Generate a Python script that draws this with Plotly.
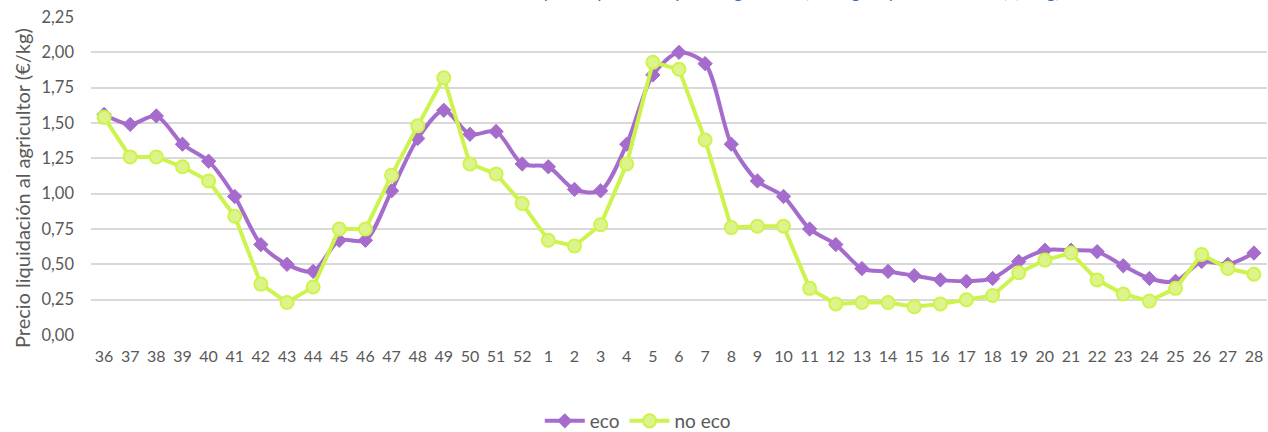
import plotly.graph_objects as go

weeks = ["36", "37", "38", "39", "40", "41", "42", "43", "44", "45", "46", "47", "48", "49",
         "50", "51", "52", "1", "2", "3", "4", "5", "6", "7", "8", "9", "10", "11", "12",
         "13", "14", "15", "16", "17", "18", "19", "20", "21", "22", "23", "24", "25", "26",
         "27", "28"]

eco = [1.56, 1.49, 1.55, 1.35, 1.23, 0.98, 0.64, 0.50, 0.45, 0.67, 0.67, 1.02, 1.39, 1.59,
       1.42, 1.44, 1.21, 1.19, 1.03, 1.02, 1.35, 1.84, 2.00, 1.92, 1.35, 1.09, 0.98, 0.75, 0.64,
       0.47, 0.45, 0.42, 0.39, 0.38, 0.40, 0.52, 0.60, 0.60, 0.59, 0.49, 0.40, 0.38, 0.52,
       0.50, 0.58]

no_eco = [1.54, 1.26, 1.26, 1.19, 1.09, 0.84, 0.36, 0.23, 0.34, 0.75, 0.75, 1.13, 1.48, 1.82,
          1.21, 1.14, 0.93, 0.67, 0.63, 0.78, 1.21, 1.93, 1.88, 1.38, 0.76, 0.77, 0.77, 0.33, 0.22,
          0.23, 0.23, 0.20, 0.22, 0.25, 0.28, 0.44, 0.53, 0.58, 0.39, 0.29, 0.24, 0.33, 0.57,
          0.47, 0.43]

y_ticks = [0, 0.25, 0.5, 0.75, 1.0, 1.25, 1.5, 1.75, 2.0, 2.25]

title_text = "Evolución del precio percibido por el agricultor (ecológico y convencional) (€/kg)"
y_title = "Precio liquidación al agricultor (€/kg)"

FONT = "Lato"
GREY = "#595959"
PURPLE = "#A56CCD"
GREEN = "#CDF44C"

fig = go.Figure()
fig.add_trace(go.Scatter(
    x=weeks, y=eco, name="eco", mode="lines+markers",
    line=dict(color=PURPLE, width=4, shape="spline", smoothing=0.8),
    marker=dict(symbol="diamond", size=11, color=PURPLE, line=dict(color=PURPLE, width=1)),
))
fig.add_trace(go.Scatter(
    x=weeks, y=no_eco, name="no eco", mode="lines+markers",
    line=dict(color=GREEN, width=4),
    marker=dict(symbol="circle", size=13, color="#DDF48C", line=dict(color=GREEN, width=2)),
))

fig.update_layout(
    width=1268, height=432,
    margin=dict(l=91, r=1, t=17, b=97, autoexpand=False),
    paper_bgcolor="white", plot_bgcolor="white",
    font=dict(family=FONT, size=16, color=GREY),
    separators=",.",
    showlegend=True,
    legend=dict(orientation="h", x=0.503, xanchor="center", xref="container",
                y=0.0255, yanchor="middle", yref="container",
                font=dict(family=FONT, size=19, color=GREY), itemwidth=40,
                traceorder="normal"),
    annotations=[
        dict(text=title_text, xref="paper", yref="paper", x=0.826, xanchor="right",
             y=1.040, yanchor="bottom", showarrow=False,
             font=dict(family=FONT, size=18, color="#3E6FB0")),
        dict(text=y_title, xref="paper", yref="paper", x=-0.0587, xanchor="center",
             y=0.462, yanchor="middle", textangle=-90, showarrow=False,
             font=dict(family=FONT, size=20, color=GREY)),
    ],
)

fig.update_xaxes(
    type="category", categoryorder="array", categoryarray=weeks,
    range=[-0.5, len(weeks) - 0.5], automargin=False,
    showgrid=False, showline=False, zeroline=False, ticks="",
    tickangle=0, ticklabelstandoff=10,
    tickfont=dict(family=FONT, size=16, color=GREY),
)
fig.update_yaxes(
    range=[0, 2.25], tickvals=y_ticks, tickformat=".2f", automargin=False,
    showgrid=True, gridcolor="#D9D9D9", gridwidth=1.5,
    zeroline=False, showline=False, ticks="", ticklabelstandoff=16,
    tickfont=dict(family=FONT, size=16.5, color=GREY),
)

fig.write_html("out.html", config={"displayModeBar": False},
               post_script="document.body.style.margin='0';document.body.style.overflow='hidden';")
